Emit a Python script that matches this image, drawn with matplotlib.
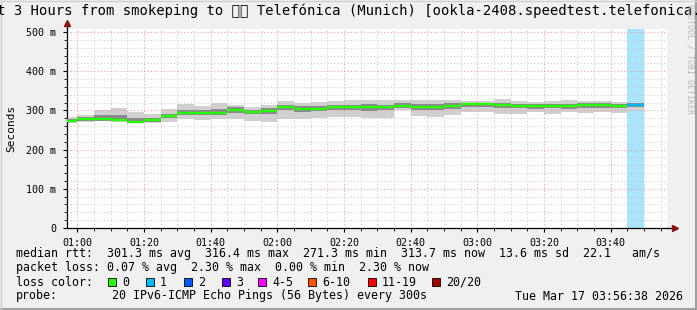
import matplotlib
matplotlib.use("Agg")
import matplotlib.pyplot as plt
from matplotlib.patches import Rectangle
from matplotlib.lines import Line2D
from matplotlib.ticker import FixedLocator, MultipleLocator

# 5 minute bins (start time of each bin), last 3 hours
bin_times = ["00:55", "01:00", "01:05", "01:10", "01:15", "01:20", "01:25",
             "01:30", "01:35", "01:40", "01:45", "01:50", "01:55", "02:00",
             "02:05", "02:10", "02:15", "02:20", "02:25", "02:30", "02:35",
             "02:40", "02:45", "02:50", "02:55", "03:00", "03:05", "03:10",
             "03:15", "03:20", "03:25", "03:30", "03:35", "03:40", "03:45"]

# median rtt in ms
median = [274, 277, 279, 275.5, 271.3, 275.5, 286.5, 294, 294, 294, 301, 296,
          299, 309.5, 304, 304, 309.5, 308, 308, 308, 312, 309.5, 309.5, 312,
          316.4, 315.5, 313, 312, 311, 312, 311, 313, 314, 311, 313.7]

# smoke: outer (min/max) and inner band of the 20 pings, ms
smoke_lo = [268, 270, 275, 270, 268, 269, 270, 279, 275, 277, 279, 272, 270,
            279, 277, 280, 284, 283, 280, 280, 301, 285, 284, 288, 296, 296,
            292, 290, 295, 292, 296, 293, 295, 293, 300]
smoke_hi = [282, 289, 301, 306, 296, 290, 303, 316, 311, 318, 314, 308, 314,
            323, 319, 321, 325, 326, 326, 326, 326, 326, 326, 326, 323, 323,
            328, 324, 322, 325, 326, 324, 325, 322, 320]
inner_lo = [271, 273, 274, 272, 268, 271, 280, 288, 288, 289, 294, 290, 292,
            301, 297, 298, 302, 300, 299, 301, 306, 302, 301, 304, 308, 308,
            305, 305, 304, 305, 304, 306, 307, 305, 308]
inner_hi = [278, 282, 288, 288, 281, 280, 292, 302, 300, 303, 308, 301, 305,
            315, 310, 311, 315, 315, 316, 314, 320, 316, 316, 318, 320, 320,
            318, 317, 316, 317, 317, 318, 319, 316, 318]

# lost pings (of 20) per bin
loss = [0, 0, 0, 0, 0, 0, 0, 0, 0, 0, 0, 0, 0, 0, 0, 0, 0, 0, 0, 0, 0, 0, 0,
        0, 0, 0, 0, 0, 0, 0, 0, 0, 0, 0, 1]

loss_labels = ["0", "1", "2", "3", "4-5", "6-10", "11-19", "20/20"]
loss_colors = ["#26ff00", "#00b8ff", "#0059ff", "#5e00ff", "#ff00ff",
               "#ff5500", "#ff0000", "#a10000"]

yticks = [0, 100, 200, 300, 400, 500]
ytick_labels = ["0", "100 m", "200 m", "300 m", "400 m", "500 m"]

title = "Last 3 Hours from smokeping to \U0001F1E9\U0001F1EA Telefónica (Munich) [ookla-2408.speedtest.telefonica.de]"
stats_rtt = "median rtt:  301.3 ms avg  316.4 ms max  271.3 ms min  313.7 ms now  13.6 ms sd  22.1   am/s"
stats_loss = "packet loss: 0.07 % avg  2.30 % max  0.00 % min  2.30 % now"
probe_txt = "20 IPv6-ICMP Echo Pings (56 Bytes) every 300s"
stamp = "Tue Mar 17 03:56:38 2026"

W, H = 697, 310
MONO = "DejaVu Sans Mono"


def minutes(t):
    h, m = t.split(":")
    return int(h) * 60 + int(m)


def fx(x):
    return x / W


def fy(y):
    return 1 - y / H


starts = [minutes(t) for t in bin_times]
step = 5

fig = plt.figure(figsize=(W / 100, H / 100), dpi=100)
fig.patch.set_facecolor("#f0f0f0")

ax = fig.add_axes([fx(67), fy(228), (667 - 67) / W, (228 - 29) / H])
ax.set_facecolor("white")
xmin, xmax = 56.9, 236.9
ymax = 507.7
ax.set_xlim(xmin, xmax)
ax.set_ylim(0, ymax)

# loss band
for s, l in zip(starts, loss):
    if l > 0:
        ax.axvspan(s, s + step, color="#a8e4fb", lw=0, zorder=1)

# smoke
hgt = [h - l for h, l in zip(smoke_hi, smoke_lo)]
ax.bar(starts, hgt, bottom=smoke_lo, width=step, align="edge",
       color="#d0d0d0", lw=0, zorder=2)
hgt2 = [h - l for h, l in zip(inner_hi, inner_lo)]
ax.bar(starts, hgt2, bottom=inner_lo, width=step, align="edge",
       color="#8a8a8a", lw=0, zorder=3)

# median, coloured by loss
cols = [loss_colors[l] for l in loss]
ax.hlines(median, starts, [s + step for s in starts], colors=cols,
          lw=1.7, zorder=4)

# grid
ax.xaxis.set_major_locator(FixedLocator(list(range(60, 221, 20))))
ax.xaxis.set_minor_locator(MultipleLocator(5))
ax.yaxis.set_major_locator(FixedLocator(yticks))
ax.yaxis.set_minor_locator(MultipleLocator(20))
ax.grid(which="minor", color="#cccccc", linestyle=(0, (1, 2)), lw=0.8, zorder=5)
ax.grid(which="major", color="#f0a0a0", linestyle=(0, (1, 2)), lw=0.8, zorder=6)
ax.set_axisbelow(False)

ax.set_xticklabels(["%02d:%02d" % (v // 60, v % 60) for v in range(60, 221, 20)],
                   fontfamily=MONO, fontsize=7.2)
ax.set_yticklabels(ytick_labels, fontfamily=MONO, fontsize=7.2)
ax.tick_params(which="major", length=3, width=0.8, pad=4, direction="out")
ax.tick_params(which="minor", length=2, width=0.6, direction="out")
ax.tick_params(axis="y", pad=5)

for sp in ["top", "right"]:
    ax.spines[sp].set_visible(False)
for sp in ["left", "bottom"]:
    ax.spines[sp].set_color("black")
    ax.spines[sp].set_linewidth(0.9)

# axis arrows
ax.plot([xmin, xmin], [ymax, 522], color="black", lw=0.9, clip_on=False)
ax.plot([xmin], [524], marker="^", color="#8b1010", ms=4.5, clip_on=False)
ax.plot([xmax, 238.6], [0, 0], color="black", lw=0.9, clip_on=False)
ax.plot([239.2], [0], marker=">", color="#8b1010", ms=4.5, clip_on=False)

fig.text(fx(11), fy(128), "Seconds", rotation=90, ha="center", va="center",
         fontfamily=MONO, fontsize=8)

# title and watermark
fig.text(0.5, fy(11), title, ha="center", va="center",
         fontfamily=[MONO, "DejaVu Sans"], fontsize=10)
fig.text(fx(690), fy(4), "RRDTOOL / TOBI OETIKER", rotation=270,
         ha="center", va="top", fontfamily=MONO, fontsize=6, color="#b8b8b8")

# legend
fs = 8.4
fig.text(fx(16), fy(254), stats_rtt, ha="left", va="center", fontfamily=MONO, fontsize=fs)
fig.text(fx(16), fy(268), stats_loss, ha="left", va="center", fontfamily=MONO, fontsize=fs)
fig.text(fx(16), fy(282), "loss color:", ha="left", va="center", fontfamily=MONO, fontsize=fs)
box_x = [108, 146, 184, 222, 258, 308, 368, 432]
for bx, lab, c in zip(box_x, loss_labels, loss_colors):
    fig.add_artist(Rectangle((fx(bx), fy(286)), 8 / W, 8 / H, transform=fig.transFigure,
                             facecolor=c, edgecolor="black", lw=0.6))
    fig.text(fx(bx + 14), fy(282), lab, ha="left", va="center",
             fontfamily=MONO, fontsize=fs)
fig.text(fx(16), fy(296), "probe:", ha="left", va="center", fontfamily=MONO, fontsize=fs)
fig.text(fx(112), fy(296), probe_txt, ha="left", va="center", fontfamily=MONO, fontsize=fs)
fig.text(fx(683), fy(296), stamp, ha="right", va="center", fontfamily=MONO, fontsize=fs)

# frame
fig.add_artist(Line2D([0, 1], [fy(309), fy(309)], color="#a0a0a0", lw=1.5, transform=fig.transFigure))
fig.add_artist(Line2D([fx(696), fx(696)], [0, 1], color="#a0a0a0", lw=1.5, transform=fig.transFigure))
fig.add_artist(Line2D([0, 1], [fy(0.5), fy(0.5)], color="#d0d0d0", lw=1, transform=fig.transFigure))
fig.add_artist(Line2D([fx(0.5), fx(0.5)], [0, 1], color="#d0d0d0", lw=1, transform=fig.transFigure))

fig.savefig("out.png", dpi=100, facecolor=fig.get_facecolor())
